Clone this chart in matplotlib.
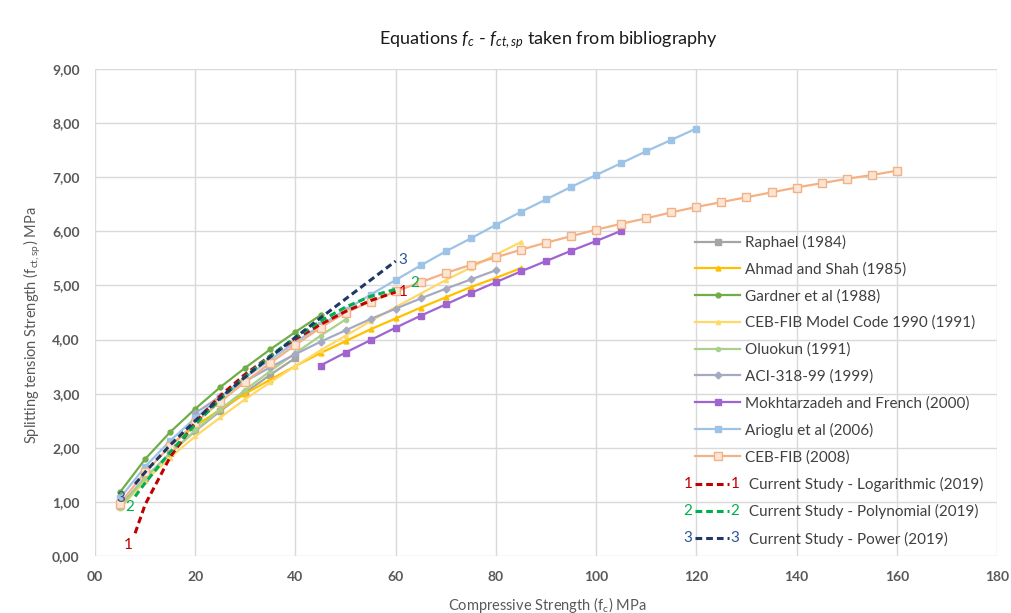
import matplotlib
matplotlib.use("Agg")
import matplotlib.pyplot as plt
from matplotlib.legend_handler import HandlerLine2D
from matplotlib.text import Text
from matplotlib.ticker import FuncFormatter, MultipleLocator

plt.rcParams['font.family'] = ['Lato', 'DejaVu Sans']
plt.rcParams['mathtext.fontset'] = 'custom'
plt.rcParams['mathtext.rm'] = 'Lato'
plt.rcParams['mathtext.it'] = 'Lato:italic'

# Data (fc in MPa, splitting strength in MPa)
fc_raphael = [5, 10, 15, 20, 25, 30, 35, 40]
raphael = [0.92, 1.45, 1.90, 2.31, 2.68, 3.02, 3.35, 3.66]

fc_ahmad = [15, 20, 25, 30, 35, 40, 45, 50, 55, 60, 65, 70, 75, 80, 85]
ahmad = [2.05, 2.40, 2.71, 3.00, 3.26, 3.51, 3.75, 3.97, 4.19, 4.39, 4.59, 4.78, 4.97, 5.14, 5.32]

fc_gardner = [5, 10, 15, 20, 25, 30, 35, 40, 45]
gardner = [1.18, 1.79, 2.29, 2.72, 3.12, 3.48, 3.82, 4.14, 4.45]

fc_ceb1990 = [5, 10, 15, 20, 25, 30, 35, 40, 45, 50, 55, 60, 65, 70, 75, 80, 85]
ceb1990 = [0.88, 1.39, 1.82, 2.21, 2.56, 2.90, 3.21, 3.51, 3.80, 4.07, 4.34, 4.60, 4.85, 5.10, 5.33, 5.57, 5.80]

fc_oluokun = [5, 10, 15, 20, 25, 30, 35, 40, 45, 50]
oluokun = [0.89, 1.44, 1.90, 2.32, 2.71, 3.07, 3.42, 3.75, 4.07, 4.37]

fc_aci = [20, 25, 30, 35, 40, 45, 50, 55, 60, 65, 70, 75, 80]
aci = [2.64, 2.95, 3.23, 3.49, 3.73, 3.96, 4.17, 4.38, 4.57, 4.76, 4.94, 5.11, 5.28]

fc_mokh = [45, 50, 55, 60, 65, 70, 75, 80, 85, 90, 95, 100, 105]
mokh = [3.52, 3.76, 3.99, 4.22, 4.44, 4.65, 4.86, 5.06, 5.26, 5.45, 5.64, 5.82, 6.01]

fc_arioglu = [5, 10, 15, 20, 25, 30, 35, 40, 45, 50, 55, 60, 65, 70, 75, 80,
              85, 90, 95, 100, 105, 110, 115, 120]
arioglu = [1.07, 1.65, 2.13, 2.55, 2.94, 3.30, 3.63, 3.95, 4.26, 4.55, 4.83, 5.10, 5.37, 5.63, 5.87, 6.12,
           6.36, 6.59, 6.82, 7.04, 7.26, 7.48, 7.69, 7.90]

fc_ceb2008 = [5, 10, 15, 20, 25, 30, 35, 40, 45, 50, 55, 60, 65, 70, 75, 80,
              85, 90, 95, 100, 105, 110, 115, 120, 125, 130, 135, 140, 145, 150, 155, 160]
ceb2008 = [0.97, 1.55, 2.03, 2.46, 2.85, 3.22, 3.57, 3.90, 4.22, 4.50, 4.70, 4.89, 5.06, 5.23, 5.38, 5.52,
           5.66, 5.79, 5.91, 6.03, 6.14, 6.24, 6.35, 6.45, 6.54, 6.63, 6.72, 6.81, 6.89, 6.97, 7.04, 7.12]

fc_study = [8, 10, 15, 20, 25, 30, 35, 40, 45, 50, 55, 60]
study_log = [0.42, 0.95, 1.83, 2.47, 2.96, 3.36, 3.70, 4.01, 4.28, 4.52, 4.72, 4.88]
study_poly = [1.10, 1.35, 1.92, 2.43, 2.90, 3.32, 3.70, 4.04, 4.34, 4.60, 4.80, 4.93]
study_pow = [1.33, 1.55, 2.05, 2.50, 2.92, 3.31, 3.68, 4.04, 4.40, 4.75, 5.10, 5.45]


class TagHandler(HandlerLine2D):
    """Dashed legend line with a number tag at each end."""
    def __init__(self, tag, tag_color, **kw):
        super().__init__(**kw)
        self.tag = tag
        self.tag_color = tag_color

    def create_artists(self, legend, orig_handle, xdescent, ydescent,
                       width, height, fontsize, trans):
        arts = super().create_artists(legend, orig_handle, xdescent, ydescent,
                                      width - 8, height, fontsize, trans)
        y = height / 2 - ydescent
        t1 = Text(-xdescent - 2, y, self.tag, color=self.tag_color, ha='right',
                  va='center', fontsize=fontsize, transform=trans)
        t2 = Text(width - xdescent - 7, y, self.tag, color=self.tag_color, ha='left',
                  va='center', fontsize=fontsize, transform=trans)
        return list(arts) + [t1, t2]


fig = plt.figure(figsize=(10.11, 6.13), dpi=100)
ax = fig.add_axes([95 / 1011, 1 - 556 / 613, 902 / 1011, 487 / 613])

lw = 1.6
ax.plot(fc_raphael, raphael, color='#A5A5A5', lw=lw, marker='s', ms=4, label='Raphael (1984)')
ax.plot(fc_ahmad, ahmad, color='#FFC000', lw=lw, marker='^', ms=3.5, label='Ahmad and Shah (1985)')
ax.plot(fc_gardner, gardner, color='#70AD47', lw=lw, marker='o', ms=3.5, label='Gardner et al (1988)')
ax.plot(fc_ceb1990, ceb1990, color='#FFD966', lw=lw, marker='^', ms=3, label='CEB-FIB Model Code 1990 (1991)')
ax.plot(fc_oluokun, oluokun, color='#A9D18E', lw=lw, marker='o', ms=3, label='Oluokun (1991)')
ax.plot(fc_aci, aci, color='#A5AAC2', lw=lw, marker='D', ms=3.5, label='ACI-318-99 (1999)')
ax.plot(fc_mokh, mokh, color='#A064D0', lw=lw, marker='s', ms=4, label='Mokhtarzadeh and French (2000)')
ax.plot(fc_arioglu, arioglu, color='#9DC3E6', lw=lw, marker='s', ms=4, label='Arioglu et al (2006)')
ax.plot(fc_ceb2008, ceb2008, color='#F4B183', lw=lw, marker='s', ms=5.5,
        markerfacecolor='#FBE5D6', label='CEB-FIB (2008)')

red, green, blue = '#C00000', '#00B050', '#1F3864'
blue_txt = '#2F5597'
l1, = ax.plot(fc_study, study_log, color=red, lw=2.2, ls=(0, (2.2, 1.3)),
              label=' Current Study - Logarithmic (2019)')
l2, = ax.plot(fc_study, study_poly, color=green, lw=2.2, ls=(0, (2.2, 1.3)),
              label=' Current Study - Polynomial (2019)')
l3, = ax.plot(fc_study, study_pow, color=blue, lw=2.2, ls=(0, (2.2, 1.3)),
              label=' Current Study - Power (2019)')

# number tags at the ends of the study curves
tags = [(study_log, '1', red, (-7, -12), (8, 0)),
        (study_poly, '2', green, (-5, -11), (19, 6)),
        (study_pow, '3', blue_txt, (-14, -14), (7, 1))]
for vals, tag, col, off0, off1 in tags:
    ax.annotate(tag, (fc_study[0], vals[0]), xytext=off0, textcoords='offset pixels',
                ha='center', va='center', color=col, fontsize=11)
    ax.annotate(tag, (fc_study[-1], vals[-1]), xytext=off1, textcoords='offset pixels',
                ha='center', va='center', color=col, fontsize=11)

ax.set_xlim(0, 180)
ax.set_ylim(0, 9)
ax.xaxis.set_major_locator(MultipleLocator(20))
ax.yaxis.set_major_locator(MultipleLocator(1))
ax.xaxis.set_major_formatter(FuncFormatter(lambda v, p: f'{int(v):02d}'))
ax.yaxis.set_major_formatter(FuncFormatter(lambda v, p: f'{v:.2f}'.replace('.', ',')))
ax.grid(True, color='#D9D9D9', lw=1)
ax.set_axisbelow(True)
for s in ax.spines.values():
    s.set_visible(False)
ax.tick_params(length=0, labelsize=10, labelcolor='#595959')
ax.tick_params(axis='y', pad=11)
ax.tick_params(axis='x', pad=11)
for lab in ax.get_xticklabels() + ax.get_yticklabels():
    lab.set_fontweight('bold')

fig.text(548 / 1011, 1 - 40 / 613, r'Equations $f_c$ - $f_{ct,sp}$ taken from bibliography',
         ha='center', va='center', fontsize=13, color='#1A1A1A')
fig.text(32 / 1011, 1 - 325 / 613, r'Splitting tension Strength (f$_{\mathrm{ct,sp}}$) MPa',
         rotation=90, ha='center', va='center', fontsize=10.5, color='#595959')
fig.text(547 / 1011, 1 - 605 / 613, r'Compressive Strength (f$_{\mathrm{c}}$) MPa',
         ha='center', va='center', fontsize=10.5, color='#595959')

leg = ax.legend(loc='upper left', bbox_to_anchor=(695 / 1011, 1 - 235 / 613),
                bbox_transform=fig.transFigure, frameon=False, fontsize=11,
                borderpad=0, borderaxespad=0, handlelength=2.95, handletextpad=0.33,
                labelspacing=0.81, numpoints=1, labelcolor='#404040',
                handler_map={l1: TagHandler('1', red), l2: TagHandler('2', green),
                             l3: TagHandler('3', blue_txt)})

fig.savefig('out.png', dpi=100)
